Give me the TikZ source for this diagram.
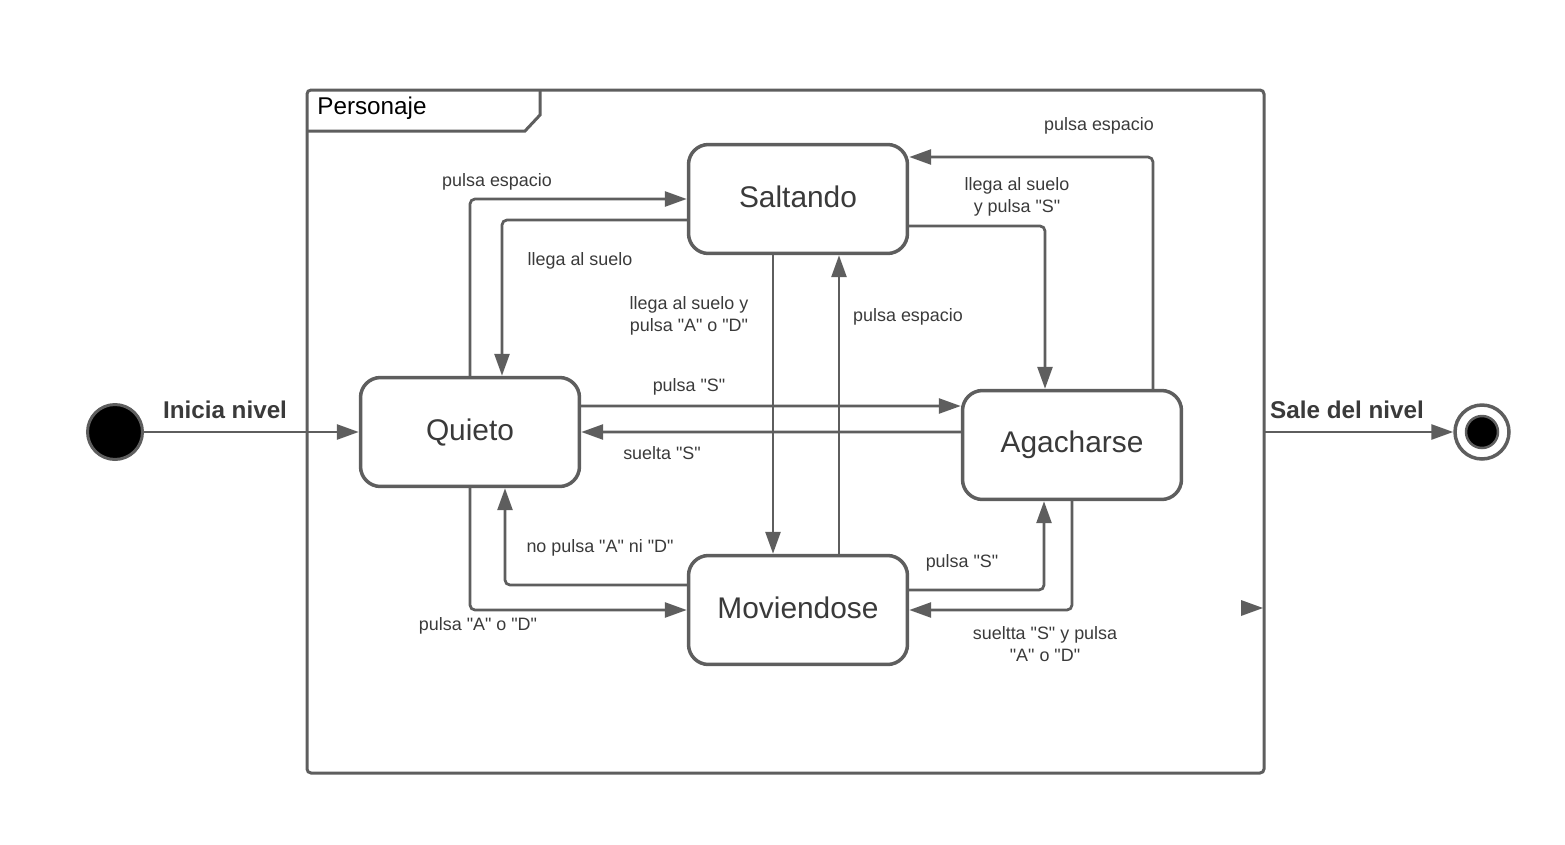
\documentclass[tikz,border=0pt]{standalone}
\usepackage{fontspec}
\setmainfont{Liberation Sans}[Ligatures=TeXOff]
\usetikzlibrary{arrows.meta}
\definecolor{ln}{HTML}{5E5E5E}
\definecolor{tx}{HTML}{3A3A3A}
\tikzset{
  statebox/.style={draw=ln, line width=0.07cm, rounded corners=0.4cm, fill=white,
    minimum width=4.38cm, minimum height=2.18cm, inner sep=0pt,
    font=\fontsize{17}{20}\selectfont, text=tx},
  arr/.style={draw=ln, line width=0.055cm, rounded corners=0.1cm,
    -{Triangle[length=0.44cm,width=0.3cm]}},
  lbl/.style={font=\fontsize{10.2}{12.4}\selectfont, text=tx, align=center, inner sep=0pt},
  blbl/.style={font=\bfseries\fontsize{13.8}{16}\selectfont, text=tx, inner sep=0pt},
}
\begin{document}
\begin{tikzpicture}[x=0.02cm,y=-0.02cm]
\useasboundingbox (0,0) rectangle (1565,845);
% frame
\draw[ln, line width=0.06cm, rounded corners=0.08cm] (307,90) rectangle (1264,773);
\draw[ln, line width=0.06cm] (307,131) -- (525,131) -- (540,115) -- (540,90);
\node[anchor=west, font=\fontsize{13.8}{16}\selectfont, text=black, inner sep=0pt] (title) at (317,108) {Personaje};
% states
\node[statebox] (Q) at (470,432) {\raisebox{0.08cm}{Quieto}};
\node[statebox] (S) at (798,199) {\raisebox{0.08cm}{Saltando}};
\node[statebox] (A) at (1072,445) {\raisebox{0.06cm}{Agacharse}};
\node[statebox] (M) at (798,610) {\raisebox{0.08cm}{Moviendose}};
% initial / final
\node[circle, fill=black, draw=ln, line width=0.06cm, minimum size=1.1cm, inner sep=0pt] (init) at (115,432) {};
\node[circle, draw=ln, line width=0.07cm, fill=white, minimum size=1.08cm, inner sep=0pt] (final) at (1482,432) {};
\node[circle, fill=black, draw=ln, line width=0.05cm, minimum size=0.64cm, inner sep=0pt] (finalin) at (1482,432) {};
\coordinate (exitpt) at (1264,432);
% entry / exit
\draw[arr] (init) -- (Q.west);
\node[blbl] (li) at (225,410) {Inicia nivel};
\draw[arr] (exitpt) -- (final);
\node[blbl] (ls) at (1347,410) {Sale del nivel};
% transitions
\draw[arr] (Q.north) |- (S.west);
\node[lbl] (l1) at (497,182) {pulsa espacio};
\draw[arr] ([yshift=-0.42cm]S.west) -| ([xshift=0.64cm]Q.north);
\node[lbl] (l2) at (580,261) {llega al suelo};
\draw[arr] ([xshift=-0.5cm]S.south) -- ([xshift=-0.5cm]M.north);
\node[lbl] (l3) at (689,316) {llega al suelo y\\pulsa "A" o "D"};
\draw[arr] ([xshift=0.82cm]M.north) -- ([xshift=0.82cm]S.south);
\node[lbl] (l4) at (908,317) {pulsa espacio};
\draw[arr] ([yshift=-0.54cm]S.east) -| ([xshift=-0.54cm]A.north);
\node[lbl] (l5) at (1017,197) {llega al suelo\\y pulsa "S"};
\draw[arr] ([xshift=1.62cm]A.north) |- ([yshift=0.84cm]S.east);
\node[lbl] (l6) at (1099,126) {pulsa espacio};
\draw[arr] ([yshift=0.52cm]Q.east) -- ([yshift=0.78cm]A.west);
\node[lbl] (l7) at (689,387) {pulsa "S"};
\draw[arr] ([yshift=0.26cm]A.west) -- (Q.east);
\node[lbl] (l8) at (662,453) {suelta "S"};
\draw[arr] (Q.south) |- (M.west);
\node[lbl] (l9) at (478,626) {pulsa "A" o "D"};
\draw[arr] ([yshift=0.5cm]M.west) -| ([xshift=0.7cm]Q.south);
\node[lbl] (l10) at (600,548) {no pulsa "A" ni "D"};
\draw[arr] ([yshift=0.4cm]M.east) -| ([xshift=-0.56cm]A.south);
\node[lbl] (l11) at (962,563) {pulsa "S"};
\draw[arr] (A.south) |- (M.east);
\node[lbl] (l12) at (1045,644) {sueltta "S" y pulsa\\"A" o "D"};
% stray arrowhead
\fill[ln] (1241,600) -- (1263,608) -- (1241,616) -- cycle;
\end{tikzpicture}
\end{document}
